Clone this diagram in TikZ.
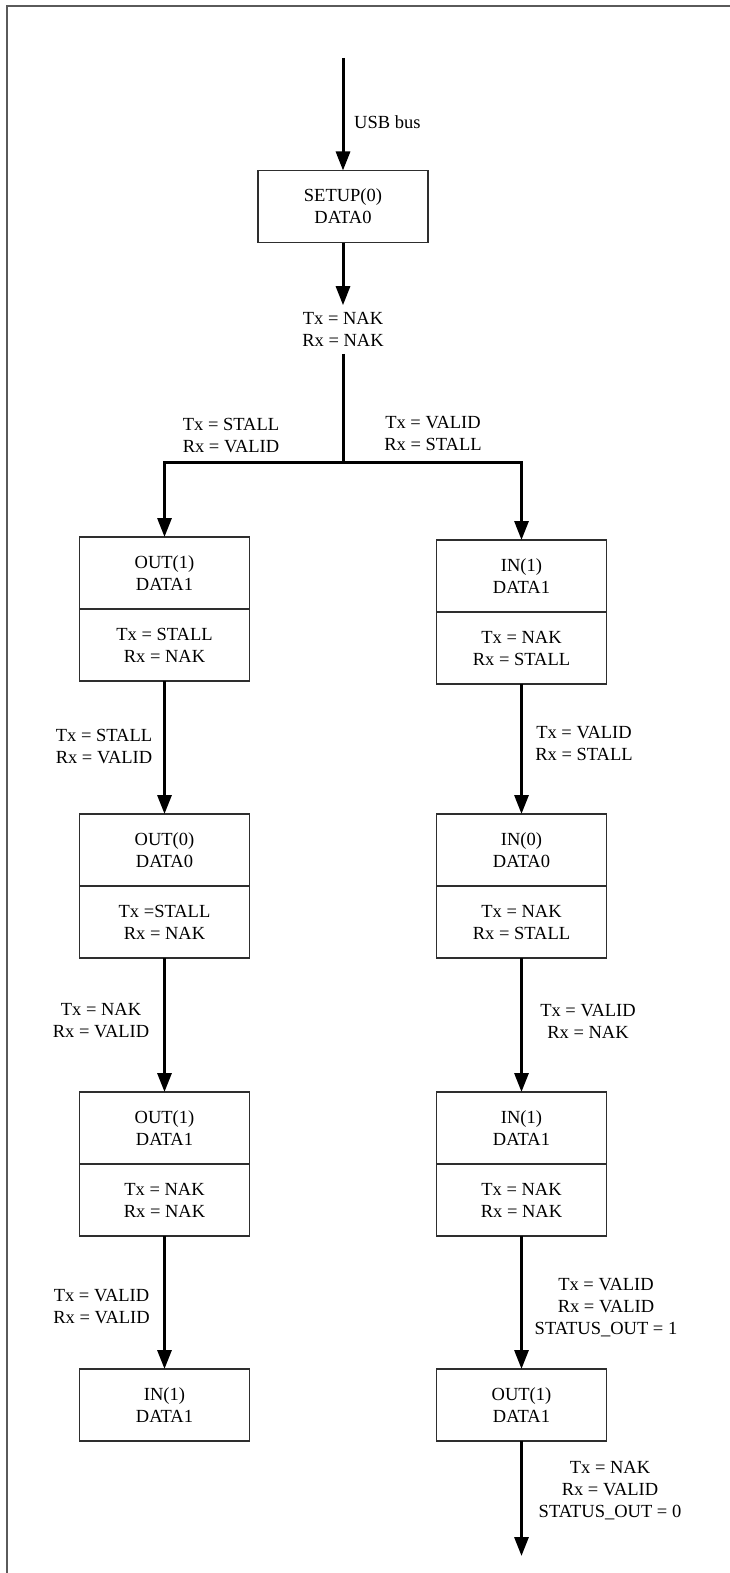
\documentclass[tikz,border=0pt]{standalone}
\usepackage{fontspec}
\setmainfont{Liberation Serif}
\usetikzlibrary{arrows.meta,positioning}
\definecolor{framegray}{HTML}{5A5A5A}
\definecolor{linegray}{HTML}{2E2E2E}
\tikzset{
  txt/.style={font=\fontsize{18.5}{22}\selectfont,align=center},
  box/.style={txt,draw=linegray,line width=1.3pt,minimum width=170pt,minimum height=72pt,inner sep=0pt,outer sep=0pt},
  lbl/.style={txt,inner sep=2pt},
  arr/.style={-{Triangle[length=19pt,width=14pt]},line width=3pt}
}
\begin{document}
\begin{tikzpicture}[x=1pt,y=-1pt]
\path[use as bounding box] (0,0) rectangle (730,1573);
\draw[framegray,line width=2pt] (730,6)--(7,6)--(7,1573);

\coordinate (bus) at (343,58);
\node[box] (setup) at (343,206.5) {SETUP(0)\\DATA0};
\draw[arr] (bus) -- (setup);
\node[lbl,anchor=west] (buslbl) at (352,122) {USB bus};
\node[lbl,inner sep=7pt] (nak) at (343,329.5) {Tx = NAK\\Rx = NAK};
\draw[arr] (setup) -- (nak);

\coordinate (fork) at (343,462);
\node[lbl] (stl) at (231,436) {Tx = STALL\\Rx = VALID};
\node[lbl] (vld) at (433,433.5) {Tx = VALID\\Rx = STALL};

% left column
\node[box] (o1) at (164.5,573) {OUT(1)\\DATA1};
\node[box,below=0pt of o1] (o1s) {Tx = STALL\\Rx = NAK};
\node[box] (o0) at (164.5,850) {OUT(0)\\DATA0};
\node[box,below=0pt of o0] (o0s) {Tx =STALL\\Rx = NAK};
\node[box] (o1b) at (164.5,1128) {OUT(1)\\DATA1};
\node[box,below=0pt of o1b] (o1bs) {Tx = NAK\\Rx = NAK};
\node[box] (in1) at (164.5,1405) {IN(1)\\DATA1};
\node[lbl] (l1) at (104,746.5) {Tx = STALL\\Rx = VALID};
\node[lbl] (l2) at (101,1021) {Tx = NAK\\Rx = VALID};
\node[lbl] (l3) at (101.5,1307) {Tx = VALID\\Rx = VALID};

% right column
\node[box] (i1) at (521.5,576) {IN(1)\\DATA1};
\node[box,below=0pt of i1] (i1s) {Tx = NAK\\Rx = STALL};
\node[box] (i0) at (521.5,850) {IN(0)\\DATA0};
\node[box,below=0pt of i0] (i0s) {Tx = NAK\\Rx = STALL};
\node[box] (i1b) at (521.5,1128) {IN(1)\\DATA1};
\node[box,below=0pt of i1b] (i1bs) {Tx = NAK\\Rx = NAK};
\node[box] (o1r) at (521.5,1405) {OUT(1)\\DATA1};
\coordinate (end) at (521.5,1556);
\node[lbl] (r1) at (584,743.5) {Tx = VALID\\Rx = STALL};
\node[lbl] (r2) at (588,1021) {Tx = VALID\\Rx = NAK};
\node[lbl] (r3) at (606,1307.5) {Tx = VALID\\Rx = VALID\\STATUS\_OUT = 1};
\node[lbl] (r4) at (610,1490.5) {Tx = NAK\\Rx = VALID\\STATUS\_OUT = 0};

\draw[arr] (nak) -- (fork) -| (o1);
\draw[arr] (fork) -| (i1);
\draw[arr] (o1s) -- (o0);
\draw[arr] (o0s) -- (o1b);
\draw[arr] (o1bs) -- (in1);
\draw[arr] (i1s) -- (i0);
\draw[arr] (i0s) -- (i1b);
\draw[arr] (i1bs) -- (o1r);
\draw[arr] (o1r) -- (end);
\end{tikzpicture}
\end{document}
